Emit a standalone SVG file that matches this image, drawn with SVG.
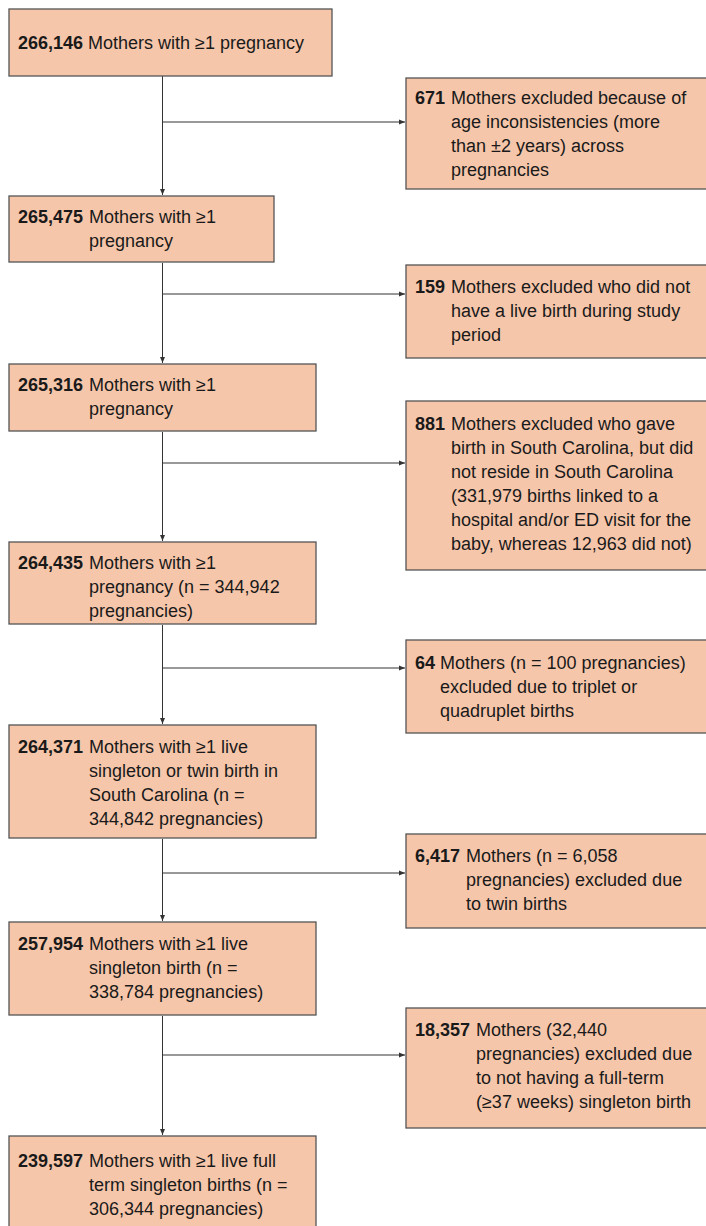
<svg xmlns="http://www.w3.org/2000/svg" width="706" height="1226" viewBox="0 0 706 1226">
<defs>
<style>
.box{fill:#F6C6AA;stroke:#555;stroke-width:1.3}
.t{font-family:"Liberation Sans",Arial,sans-serif;font-size:18px;fill:#1a1a1a}
.b{font-weight:bold}
.c{fill:none;stroke:#333;stroke-width:1}
</style>
<marker id="ah" viewBox="0 0 6 6" refX="6" refY="3" markerWidth="6" markerHeight="6" markerUnits="userSpaceOnUse" orient="auto">
<path d="M0,0.5 L6,3 L0,5.5 z" fill="#333"/>
</marker>
</defs>
<rect width="706" height="1226" fill="#fff"/>
<g id="connectors">
<line class="c" x1="162.5" y1="76" x2="162.5" y2="195" marker-end="url(#ah)"/>
<line class="c" x1="162.5" y1="122" x2="405" y2="122" marker-end="url(#ah)"/>
<line class="c" x1="162.5" y1="263" x2="162.5" y2="363" marker-end="url(#ah)"/>
<line class="c" x1="162.5" y1="294" x2="405" y2="294" marker-end="url(#ah)"/>
<line class="c" x1="162.5" y1="432" x2="162.5" y2="541" marker-end="url(#ah)"/>
<line class="c" x1="162.5" y1="463" x2="405" y2="463" marker-end="url(#ah)"/>
<line class="c" x1="162.5" y1="625" x2="162.5" y2="724" marker-end="url(#ah)"/>
<line class="c" x1="162.5" y1="668" x2="405" y2="668" marker-end="url(#ah)"/>
<line class="c" x1="162.5" y1="839" x2="162.5" y2="921" marker-end="url(#ah)"/>
<line class="c" x1="162.5" y1="873" x2="405" y2="873" marker-end="url(#ah)"/>
<line class="c" x1="162.5" y1="1016" x2="162.5" y2="1135" marker-end="url(#ah)"/>
<line class="c" x1="162.5" y1="1055" x2="405" y2="1055" marker-end="url(#ah)"/>
</g>
<g id="n1">
<rect class="box" x="9" y="9" width="323" height="67"/>
<text class="t" x="18" y="49"><tspan class="b">266,146</tspan> Mothers with ≥1 pregnancy</text>
</g>
<g id="e1">
<rect class="box" x="406" y="78" width="310" height="111"/>
<text class="t"><tspan x="415" y="104" class="b">671</tspan><tspan x="451" y="104">Mothers excluded because of</tspan><tspan x="451" y="128">age inconsistencies (more</tspan><tspan x="451" y="152">than ±2 years) across</tspan><tspan x="451" y="176">pregnancies</tspan></text>
</g>
<g id="n2">
<rect class="box" x="9" y="196" width="265" height="66"/>
<text class="t"><tspan x="18" y="223" class="b">265,475</tspan><tspan x="89" y="223">Mothers with ≥1</tspan><tspan x="89" y="247">pregnancy</tspan></text>
</g>
<g id="e2">
<rect class="box" x="406" y="265" width="310" height="93"/>
<text class="t"><tspan x="415" y="293" class="b">159</tspan><tspan x="451" y="293">Mothers excluded who did not</tspan><tspan x="451" y="317">have a live birth during study</tspan><tspan x="451" y="341">period</tspan></text>
</g>
<g id="n3">
<rect class="box" x="9" y="364" width="307" height="67"/>
<text class="t"><tspan x="18" y="391" class="b">265,316</tspan><tspan x="89" y="391">Mothers with ≥1</tspan><tspan x="89" y="415">pregnancy</tspan></text>
</g>
<g id="e3">
<rect class="box" x="406" y="401" width="310" height="169"/>
<text class="t"><tspan x="415" y="430" class="b">881</tspan><tspan x="451" y="430">Mothers excluded who gave</tspan><tspan x="451" y="454">birth in South Carolina, but did</tspan><tspan x="451" y="478">not reside in South Carolina</tspan><tspan x="451" y="502">(331,979 births linked to a</tspan><tspan x="451" y="526">hospital and/or ED visit for the</tspan><tspan x="451" y="550">baby, whereas 12,963 did not)</tspan></text>
</g>
<g id="n4">
<rect class="box" x="9" y="542" width="307" height="82"/>
<text class="t"><tspan x="18" y="569" class="b">264,435</tspan><tspan x="89" y="569">Mothers with ≥1</tspan><tspan x="89" y="593">pregnancy (n = 344,942</tspan><tspan x="89" y="617">pregnancies)</tspan></text>
</g>
<g id="e4">
<rect class="box" x="406" y="640" width="310" height="93"/>
<text class="t"><tspan x="415" y="669" class="b">64</tspan><tspan x="440" y="669">Mothers (n = 100 pregnancies)</tspan><tspan x="440" y="693">excluded due to triplet or</tspan><tspan x="440" y="717">quadruplet births</tspan></text>
</g>
<g id="n5">
<rect class="box" x="9" y="725" width="307" height="113"/>
<text class="t"><tspan x="18" y="753" class="b">264,371</tspan><tspan x="89" y="753">Mothers with ≥1 live</tspan><tspan x="89" y="777">singleton or twin birth in</tspan><tspan x="89" y="801">South Carolina (n =</tspan><tspan x="89" y="825">344,842 pregnancies)</tspan></text>
</g>
<g id="e5">
<rect class="box" x="406" y="834" width="310" height="94"/>
<text class="t"><tspan x="415" y="862" class="b">6,417</tspan><tspan x="466" y="862">Mothers (n = 6,058</tspan><tspan x="466" y="886">pregnancies) excluded due</tspan><tspan x="466" y="910">to twin births</tspan></text>
</g>
<g id="n6">
<rect class="box" x="9" y="922" width="307" height="93"/>
<text class="t"><tspan x="18" y="950" class="b">257,954</tspan><tspan x="89" y="950">Mothers with ≥1 live</tspan><tspan x="89" y="974">singleton birth (n =</tspan><tspan x="89" y="998">338,784 pregnancies)</tspan></text>
</g>
<g id="e6">
<rect class="box" x="406" y="1008" width="310" height="120"/>
<text class="t"><tspan x="415" y="1036" class="b">18,357</tspan><tspan x="476" y="1036">Mothers (32,440</tspan><tspan x="476" y="1060">pregnancies) excluded due</tspan><tspan x="476" y="1084">to not having a full-term</tspan><tspan x="476" y="1108">(≥37 weeks) singleton birth</tspan></text>
</g>
<g id="n7">
<rect class="box" x="9" y="1136" width="307" height="110"/>
<text class="t"><tspan x="18" y="1167" class="b">239,597</tspan><tspan x="89" y="1167">Mothers with ≥1 live full</tspan><tspan x="89" y="1191">term singleton births (n =</tspan><tspan x="89" y="1215">306,344 pregnancies)</tspan></text>
</g>
</svg>
